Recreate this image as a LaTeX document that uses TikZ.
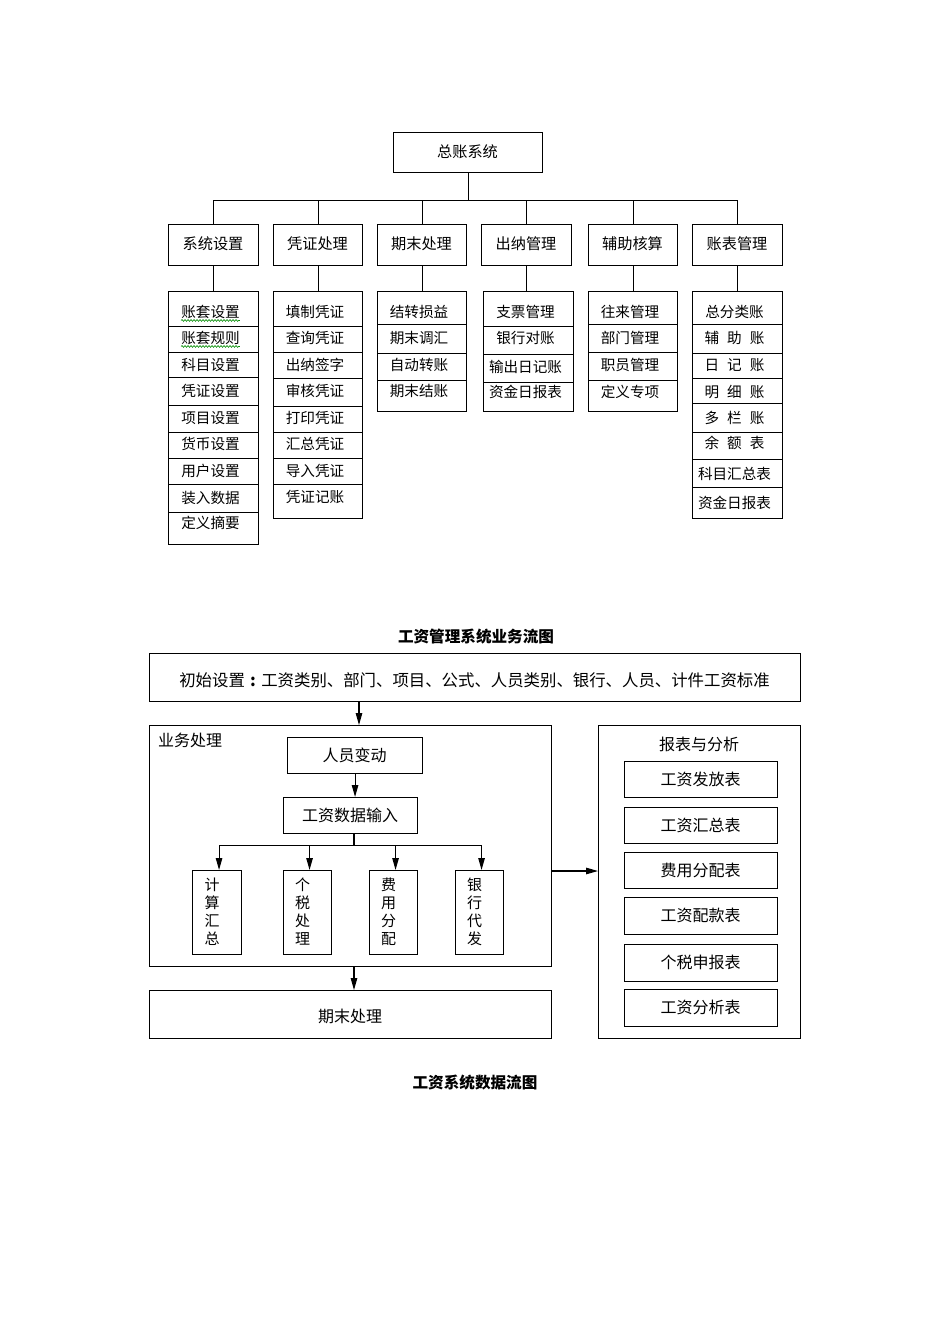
\documentclass[tikz,border=0pt]{standalone}
\usepackage{fontspec}
\setmainfont{Noto Sans CJK SC}
\usetikzlibrary{arrows.meta,decorations.pathmorphing}
\tikzset{
  bx/.style={draw=black, line width=1.1pt, inner sep=0pt, anchor=north west},
  lt/.style={inner sep=0pt, xshift=-2.5pt, font=\fontsize{14.6}{17}\selectfont},
  hd/.style={inner sep=0pt, font=\fontsize{15.2}{18}\selectfont},
  tb/.style={inner sep=0pt, font=\fontsize{16}{19}\selectfont},
  tbi/.style={inner sep=0pt, font=\fontsize{16.4}{19}\selectfont},
  tv/.style={inner sep=0pt, align=center, font=\fontsize{15}{18}\selectfont},
  ttl/.style={inner sep=0pt, font=\fontsize{15.6}{18}\selectfont\bfseries},
  ln/.style={draw=black, line width=1.1pt},
  arr/.style={draw=black, line width=1.1pt, -{Triangle[length=12pt,width=6.5pt]}},
  sq/.style={draw=green!55!black, line width=0.6pt, decorate,
             decoration={snake, amplitude=0.9pt, segment length=3pt}},
}
% name x1 y1 x2 y2 texty text style
\newcommand\rowb[8]{%
  \pgfmathsetmacro\myW{#4-#2}\pgfmathsetmacro\myH{#5-#3}\pgfmathsetmacro\myX{(#2+#4)/2}%
  \node[bx, minimum width=\myW pt, minimum height=\myH pt] (#1) at (#2,#3) {};
  \node[#8] (#1t) at (\myX,#6) {#7};}
% vertical box: name x1 x2 text
\newcommand\vbx[4]{%
  \pgfmathsetmacro\myW{#3-#2}\pgfmathsetmacro\myX{(#2+#3)/2-4.5}%
  \node[bx, minimum width=\myW pt, minimum height=84pt] (#1) at (#2,870) {};
  \node[tv] (#1t) at (\myX,912) {#4};}
\newcommand\gp{\hspace{8pt}}
\begin{document}
\begin{tikzpicture}[x=1pt,y=-1pt]
\fill[white] (0,0) rectangle (950,1344);
\useasboundingbox (0,0) rectangle (950,1344);

% ---------- top tree ----------
\rowb{root}{393}{132}{542}{172}{152}{总账系统}{hd}
\rowb{c1}{168}{224}{258}{265}{244}{系统设置}{hd}
\rowb{c2}{273}{224}{362}{265}{244}{凭证处理}{hd}
\rowb{c3}{377}{224}{466}{265}{244}{期末处理}{hd}
\rowb{c4}{481}{224}{571}{265}{244}{出纳管理}{hd}
\rowb{c5}{588}{224}{677}{265}{244}{辅助核算}{hd}
\rowb{c6}{692}{224}{782}{265}{244}{账表管理}{hd}

\path (root.south) ++(0,27) coordinate (bus);
\draw[ln] (root.south) -- (bus);
\draw[ln] (c1.north) |- (bus) -| (c6.north);
\foreach \c in {c2,c3,c4,c5} \draw[ln] (\c.north) -- (\c.north |- bus);

% list 1
\rowb{a1}{168}{291}{258}{326}{312}{账套设置}{lt}
\rowb{a2}{168}{326}{258}{352}{338}{账套规则}{lt}
\rowb{a3}{168}{352}{258}{377}{365}{科目设置}{lt}
\rowb{a4}{168}{377}{258}{405}{391}{凭证设置}{lt}
\rowb{a5}{168}{405}{258}{432}{418}{项目设置}{lt}
\rowb{a6}{168}{432}{258}{458}{444}{货币设置}{lt}
\rowb{a7}{168}{458}{258}{484}{471}{用户设置}{lt}
\rowb{a8}{168}{484}{258}{512}{498}{装入数据}{lt}
\rowb{a9}{168}{512}{258}{544}{523}{定义摘要}{lt}
\draw[sq] ([yshift=-1.5pt]a1t.south west) -- ([yshift=-1.5pt]a1t.south east);
\draw[sq] ([yshift=-1.5pt]a2t.south west) -- ([yshift=-1.5pt]a2t.south east);

% list 2
\rowb{b1}{273}{291}{362}{326}{312}{填制凭证}{lt}
\rowb{b2}{273}{326}{362}{352}{338}{查询凭证}{lt}
\rowb{b3}{273}{352}{362}{378}{365}{出纳签字}{lt}
\rowb{b4}{273}{378}{362}{406}{391}{审核凭证}{lt}
\rowb{b5}{273}{406}{362}{432}{418}{打印凭证}{lt}
\rowb{b6}{273}{432}{362}{458}{444}{汇总凭证}{lt}
\rowb{b7}{273}{458}{362}{484}{471}{导入凭证}{lt}
\rowb{b8}{273}{484}{362}{518}{497}{凭证记账}{lt}

% list 3
\rowb{d1}{377}{291}{466}{324}{312}{结转损益}{lt}
\rowb{d2}{377}{324}{466}{353}{338}{期末调汇}{lt}
\rowb{d3}{377}{353}{466}{380}{365}{自动转账}{lt}
\rowb{d4}{377}{380}{466}{411}{391}{期末结账}{lt}

% list 4
\rowb{e1}{483}{291}{573}{326}{312}{支票管理}{lt}
\rowb{e2}{483}{326}{573}{354}{338}{银行对账}{lt}
\rowb{e3}{483}{354}{573}{382}{367}{输出日记账}{lt}
\rowb{e4}{483}{382}{573}{411}{392}{资金日报表}{lt}

% list 5
\rowb{f1}{588}{291}{677}{324}{312}{往来管理}{lt}
\rowb{f2}{588}{324}{677}{352}{338}{部门管理}{lt}
\rowb{f3}{588}{352}{677}{380}{365}{职员管理}{lt}
\rowb{f4}{588}{380}{677}{411}{392}{定义专项}{lt}

% list 6
\rowb{g1}{692}{291}{782}{324}{312}{总分类账}{lt}
\rowb{g2}{692}{324}{782}{353}{338}{辅\gp 助\gp 账}{lt}
\rowb{g3}{692}{353}{782}{378}{365}{日\gp 记\gp 账}{lt}
\rowb{g4}{692}{378}{782}{403}{392}{明\gp 细\gp 账}{lt}
\rowb{g5}{692}{403}{782}{432}{418}{多\gp 栏\gp 账}{lt}
\rowb{g6}{692}{432}{782}{459}{443}{余\gp 额\gp 表}{lt}
\rowb{g7}{692}{459}{782}{487}{474}{科目汇总表}{lt}
\rowb{g8}{692}{487}{782}{518}{503}{资金日报表}{lt}

\draw[ln] (c1.south) -- (c1.south |- a1.north);
\draw[ln] (c2.south) -- (c2.south |- b1.north);
\draw[ln] (c3.south) -- (c3.south |- d1.north);
\draw[ln] (c4.south) -- (c4.south |- e1.north);
\draw[ln] (c5.south) -- (c5.south |- f1.north);
\draw[ln] (c6.south) -- (c6.south |- g1.north);

% ---------- bottom flow ----------
\node[ttl] (t1) at (476,637) {工资管理系统业务流图};
\rowb{init}{149}{653}{800}{701}{680}{初始设置\makebox[16.4pt][c]{\bfseries :}工资类别、部门、项目、公式、人员类别、银行、人员、计件工资标准}{tbi}

\node[bx, minimum width=402pt, minimum height=241pt] (biz) at (149,725) {};
\node[tb, anchor=west] (bizl) at (158,740) {业务处理};
\rowb{rybd}{287}{737}{422}{773}{755}{人员变动}{tb}
\rowb{gzsr}{283}{797}{417}{833}{815}{工资数据输入}{tb}
\vbx{v1}{192}{241}{计\\算\\汇\\总}
\vbx{v2}{283}{331}{个\\税\\处\\理}
\vbx{v3}{369}{417}{费\\用\\分\\配}
\vbx{v4}{455}{503}{银\\行\\代\\发}
\rowb{qm}{149}{990}{551}{1038}{1016}{期末处理}{tb}

\node[bx, minimum width=202pt, minimum height=313pt] (rep) at (598,725) {};
\node[tb] (repl) at (699,744) {报表与分析};
\rowb{r1}{624}{761}{777}{797}{779}{工资发放表}{tb}
\rowb{r2}{624}{807}{777}{843}{825}{工资汇总表}{tb}
\rowb{r3}{624}{852}{777}{888}{870}{费用分配表}{tb}
\rowb{r4}{624}{897}{777}{934}{915}{工资配款表}{tb}
\rowb{r5}{624}{944}{777}{981}{962}{个税申报表}{tb}
\rowb{r6}{624}{989}{777}{1026}{1007}{工资分析表}{tb}

\node[ttl] (t2) at (475,1083) {工资系统数据流图};

\coordinate (p1) at (359,701);
\draw[arr] (p1) -- (p1 |- biz.north);
\draw[arr] (rybd.south) -- (rybd.south |- gzsr.north);
\coordinate (p2) at (354,833);
\coordinate (p3) at (354,845.5);
\draw[ln] (p2) -- (p3);
\draw[ln, line width=0.9pt, line cap=rect] ([xshift=2pt]v1.north |- p3) -- ([xshift=2pt]v4.north |- p3);
\foreach \v in {v1,v2,v3,v4} \draw[arr] ([xshift=2pt]\v.north |- p3) -- ([xshift=2pt]\v.north);
\coordinate (p4) at (354,966);
\draw[arr] (p4) -- (p4 |- qm.north);
\coordinate (p5) at (551,871);
\draw[arr] (p5) -- (p5 -| rep.west);
\end{tikzpicture}
\end{document}
